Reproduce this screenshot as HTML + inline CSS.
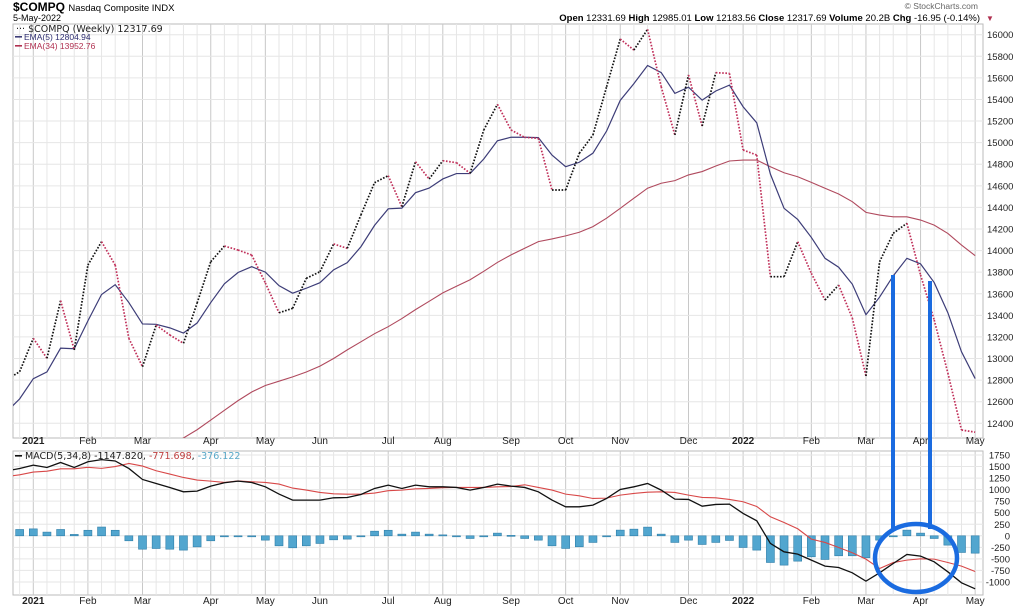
<!DOCTYPE html>
<html><head><meta charset="utf-8"><style>
html,body{margin:0;padding:0;background:#fff;}
svg{display:block;font-family:"Liberation Sans",sans-serif;}
</style></head><body>
<svg id="chart" width="1024" height="608" viewBox="0 0 1024 608" xmlns="http://www.w3.org/2000/svg">
<defs>
<clipPath id="cp1"><rect x="13" y="24" width="970" height="414"/></clipPath>
<clipPath id="cp2"><rect x="13" y="451" width="970" height="144"/></clipPath>
</defs>
<g id="grid"></g>
<g id="marks"></g>
<g id="texts">
<text x="13" y="11" font-size="12" font-weight="bold" fill="#000">$COMPQ <tspan font-size="9.5" font-weight="normal">Nasdaq Composite INDX</tspan></text>
<text x="978" y="9" font-size="8.5" fill="#666" text-anchor="end">© StockCharts.com</text>
<text x="980" y="21" font-size="9.5" fill="#000" text-anchor="end"><tspan font-weight="bold">Open</tspan> 12331.69 <tspan font-weight="bold">High</tspan> 12985.01 <tspan font-weight="bold">Low</tspan> 12183.56 <tspan font-weight="bold">Close</tspan> 12317.69 <tspan font-weight="bold">Volume</tspan> 20.2B <tspan font-weight="bold">Chg</tspan> -16.95 (-0.14%)</text>
<text x="986" y="21" font-size="8" fill="#b03050">▼</text>
</g>
</svg>
<script>
// ---- data (weekly) ----
const closes = [12800,12878,13187,13002,13536,13079,13866,14082,13866,13187,12924,13310,13218,13141,13514,13897,14042,14005,13959,13700,13424,13465,13743,13804,14061,14021,14330,14629,14694,14406,14823,14663,14833,14814,14716,15117,15355,15117,15049,15040,14561,14561,14901,15071,15518,15960,15858,16050,15518,15071,15627,15154,15648,15642,14932,14885,13758,13758,14082,13789,13542,13681,13375,12838,13897,14160,14253,13774,13357,12866,12338,12318];
const ema34 = [11700,11740,11780,11820,11860,11900,11940,11980,12020,12060,12100,12140,12200,12264,12340,12430,12520,12610,12690,12750,12790,12830,12875,12930,13000,13080,13155,13230,13295,13370,13453,13530,13608,13670,13730,13808,13890,13960,14022,14083,14108,14136,14170,14222,14300,14392,14485,14578,14624,14648,14701,14732,14784,14830,14839,14839,14777,14721,14684,14632,14577,14524,14453,14354,14329,14313,14313,14283,14236,14159,14051,13953];
const macd = [1400,1458,1530,1480,1588,1480,1603,1650,1620,1458,1220,1133,1047,953,967,1076,1148,1184,1155,1061,903,773,773,773,823,830,895,1025,1097,1025,1097,1061,1061,1047,989,1047,1119,1076,1047,953,773,628,628,664,809,1004,1061,1133,989,794,787,642,679,686,484,325,-166,-347,-397,-527,-657,-686,-801,-982,-801,-600,-404,-440,-563,-780,-1018,-1148];
const hist = [120,137,150,80,137,30,120,190,120,-108,-290,-275,-290,-310,-240,-108,-8,-3,-15,-94,-217,-260,-217,-166,-87,-72,-7,100,120,36,80,36,20,0,-58,0,58,10,-58,-94,-217,-274,-238,-144,-7,123,144,188,36,-144,-94,-188,-144,-101,-253,-310,-578,-635,-549,-455,-513,-433,-433,-476,-94,-20,123,58,-58,-202,-361,-376];
const priceTicks = [12400,12600,12800,13000,13200,13400,13600,13800,14000,14200,14400,14600,14800,15000,15200,15400,15600,15800,16000];
const macdTicks = [-1000,-750,-500,-250,0,250,500,750,1000,1250,1500,1750];
const monthLabels = ["2021","Feb","Mar","Apr","May","Jun","Jul","Aug","Sep","Oct","Nov","Dec","2022","Feb","Mar","Apr","May"];
const monthWeeks = [2,6,10,15,19,23,28,32,37,41,45,50,54,59,63,67,71];
const boldLabels = ["2021","2022"];

// ---- scales ----
const X0=6, DX=13.65;
function xs(i){return X0+DX*i;}
function yp(v){return 34.7+(16000-v)*0.10794;}
function ym(v){return 535.8-v*0.04618;}

const NS="http://www.w3.org/2000/svg";
function mk(tag,attrs,parent){const e=document.createElementNS(NS,tag);for(const k in attrs)e.setAttribute(k,attrs[k]);parent.appendChild(e);return e;}
const grid=document.getElementById('grid'), marks=document.getElementById('marks');

const p1=mk('rect',{x:13,y:24,width:970,height:414,fill:'#fff',stroke:'#bbb','stroke-width':1},grid);


const p2=mk('rect',{x:13,y:451,width:970,height:144,fill:'#fff',stroke:'#bbb','stroke-width':1},grid);



for(let i=1;i<closes.length;i++){
  const x=xs(i);
  const isM=monthWeeks.indexOf(i)>=0;
  const c=isM?'#c8c8c8':'#e6e6e6';
  mk('line',{x1:x,y1:24,x2:x,y2:438,stroke:c,'stroke-width':1},grid);
  mk('line',{x1:x,y1:451,x2:x,y2:595,stroke:c,'stroke-width':1},grid);
}
priceTicks.forEach(v=>{
  const y=yp(v);
  mk('line',{x1:13,y1:y,x2:983,y2:y,stroke:'#e6e6e6'},grid);
  const t=mk('text',{x:987,y:y+3.5,'font-size':9.5,fill:'#222'},grid);t.textContent=v;
  
  
});
macdTicks.forEach(v=>{
  const y=ym(v);
  mk('line',{x1:13,y1:y,x2:983,y2:y,stroke:'#e6e6e6'},grid);
  const t=mk('text',{x:1010,y:y+3.5,'font-size':9.5,fill:'#222','text-anchor':'end'},grid);t.textContent=v;
  
  
});
monthLabels.forEach((m,k)=>{
  const x=xs(monthWeeks[k]);
  [444,604].forEach(y=>{
    const t=mk('text',{x:x,y:y,'font-size':10,fill:'#222','text-anchor':'middle','font-weight':boldLabels.indexOf(m)>=0?'bold':'normal'},grid);
    t.textContent=m;
    
    
  });
});

// ---- price panel ----
const g1=mk('g',{'clip-path':'url(#cp1)'},marks);
function poly(arr,yf,attrs,parent){return mk('polyline',Object.assign({points:arr.map((v,i)=>xs(i)+','+yf(v)).join(' '),fill:'none'},attrs),parent);}
const e34=poly(ema34,yp,{stroke:'#b04a5e','stroke-width':1.1},g1);


const ema5=[];const a=1/3;
closes.forEach((c,i)=>{ema5.push(i===0?12500:c*a+ema5[i-1]*(1-a));});
const e5=poly(ema5,yp,{stroke:'#3d3d78','stroke-width':1.2},g1);


for(let i=1;i<closes.length;i++){
  const up=closes[i]>=closes[i-1];
  const s=mk('line',{x1:xs(i-1),y1:yp(closes[i-1]),x2:xs(i),y2:yp(closes[i]),stroke:up?'#111':'#c0305a','stroke-width':1.7,'stroke-dasharray':'1.6 1.6'},g1);
  
  
}

// ---- macd panel ----
const g2=mk('g',{'clip-path':'url(#cp2)'},marks);
hist.forEach((h,i)=>{
  const y0=ym(0),y1=ym(h);
  const r=mk('rect',{x:xs(i)-4,y:Math.min(y0,y1),width:8,height:Math.max(1,Math.abs(y1-y0)),fill:'#52a6cf',stroke:'#2f7ea8','stroke-width':0.6},g2);
  
  
});
const signal=macd.map((m,i)=>m-hist[i]);
const sl=poly(signal,ym,{stroke:'#d84848','stroke-width':1.1},g2);


const ml=poly(macd,ym,{stroke:'#111','stroke-width':1.3},g2);



// legends
const lg=mk('g',{},marks);


const l1=mk('text',{x:16,y:32,'font-size':9.5,fill:'#222','font-family':'DejaVu Sans, sans-serif'},lg);l1.textContent='··· $COMPQ (Weekly) 12317.69';
mk('rect',{x:15,y:36,width:7,height:1.6,fill:'#3d3d78'},lg);
const l2=mk('text',{x:24,y:40,'font-size':8.5,fill:'#2e2e70'},lg);l2.textContent='EMA(5) 12804.94';
mk('rect',{x:15,y:45,width:7,height:1.6,fill:'#b03050'},lg);
const l3=mk('text',{x:24,y:49,'font-size':8.5,fill:'#b03050'},lg);l3.textContent='EMA(34) 13952.76';
const ml2=mk('g',{},marks);


mk('rect',{x:15,y:455,width:7,height:1.6,fill:'#111'},ml2);
const mt=mk('text',{x:25,y:459,'font-size':9.5,fill:'#222','font-family':'DejaVu Sans, sans-serif'},ml2);
mt.innerHTML='MACD(5,34,8) -1147.820, <tspan fill="#c04040">-771.698</tspan>, <tspan fill="#5aa9c9">-376.122</tspan>';

const dt=mk('text',{x:13,y:21,'font-size':9,fill:'#000'},marks);dt.textContent='5-May-2022';



// annotations
const an=mk('g',{stroke:'#1a6be0',fill:'none'},marks);


mk('line',{x1:893,y1:275,x2:893,y2:531,'stroke-width':4},an);
mk('line',{x1:930,y1:281,x2:930,y2:529,'stroke-width':4},an);
mk('ellipse',{cx:916,cy:558,rx:41,ry:34,'stroke-width':4.5},an);
</script>
</body></html>
